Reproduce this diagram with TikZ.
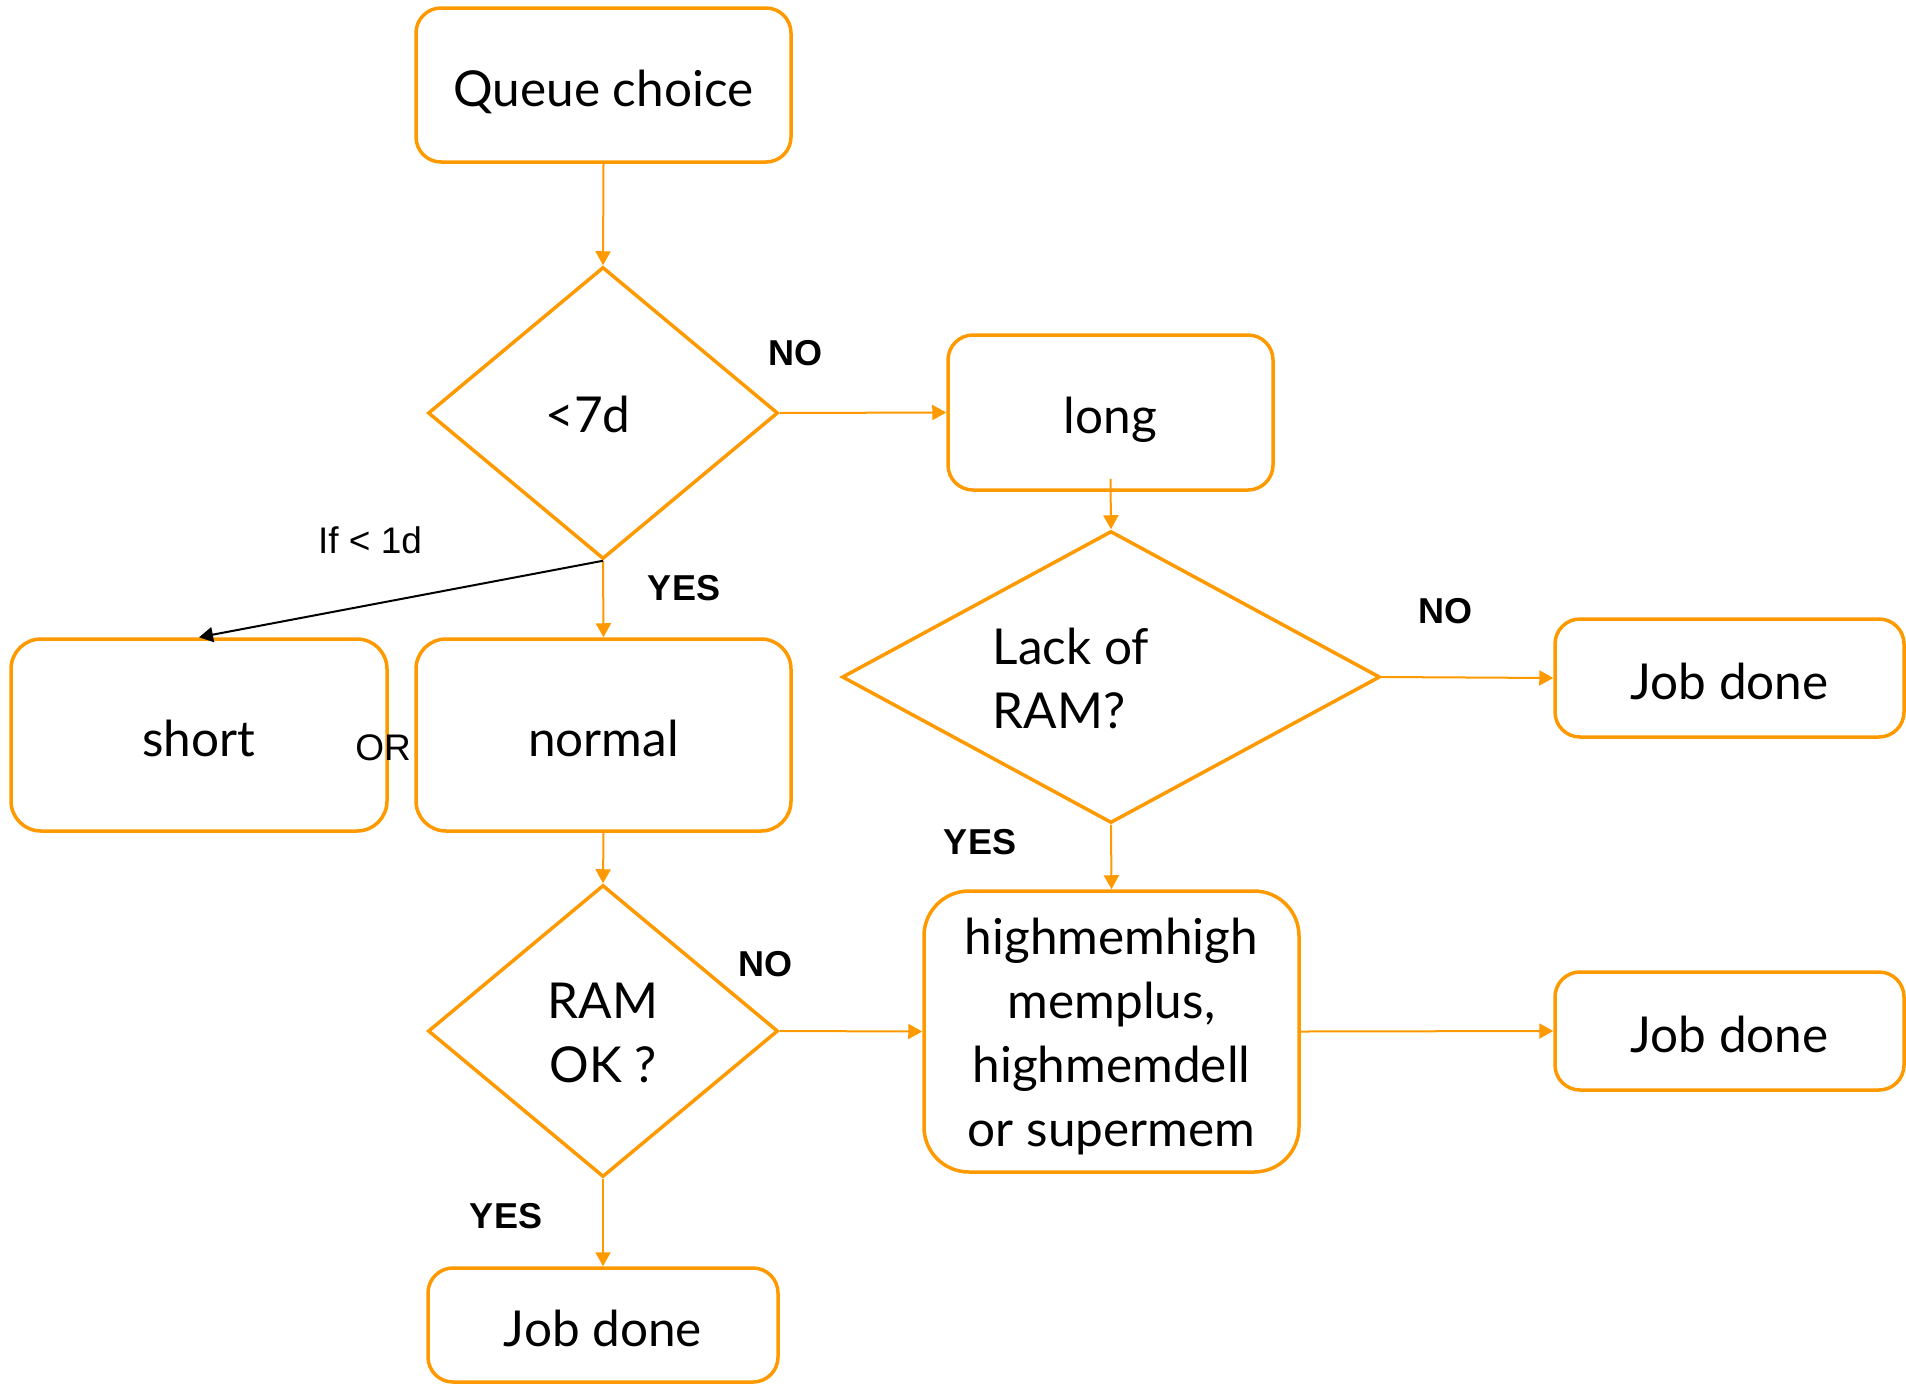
\documentclass[tikz,border=0pt]{standalone}
\usepackage{fontspec}
\setmainfont{Lato}
\newfontfamily\labelfont{Liberation Sans}
\usetikzlibrary{arrows.meta,shapes.geometric}
\definecolor{flow}{RGB}{255,153,0}

\tikzset{
  stepbox/.style={draw=flow, line width=3.5pt, rounded corners=#1, inner sep=0pt,
    font=\fontsize{49.5}{64}\selectfont, text height=46pt, text depth=4pt},
  stepbox/.default=25pt,
  decision/.style={draw=flow, line width=3.5pt, shape=diamond, inner sep=0pt},
  dtext/.style={font=\fontsize{49.5}{64}\selectfont, inner sep=0pt},
  link/.style={draw=flow, line width=2pt, -{Triangle[length=14pt,width=15pt]}},
  answer/.style={font=\labelfont\bfseries\fontsize{36}{40}\selectfont, inner sep=0pt},
  note/.style={font=\labelfont\fontsize{37}{40}\selectfont, inner sep=0pt}
}

\begin{document}
\begin{tikzpicture}[x=1pt,y=-1pt]
  \useasboundingbox (0,0) rectangle (1906,1385);

  % process boxes
  \node[stepbox, minimum width=375pt, minimum height=154pt] (qc) at (603.5,85) {Queue choice};
  \node[stepbox, minimum width=325pt, minimum height=155pt] (long) at (1110.5,412.5) {long};
  \node[stepbox, minimum width=349pt, minimum height=118pt] (jd1) at (1729.5,678) {Job done};
  \node[stepbox=30pt, minimum width=376pt, minimum height=192pt] (short) at (199,735) {short};
  \node[stepbox=30pt, minimum width=375pt, minimum height=192pt] (normal) at (603.5,735) {normal};
  \node[stepbox=45pt, minimum width=375pt, minimum height=281pt] (hm) at (1111.5,1031.5) {};
  \node[dtext, align=center] (hmtext) at (1111.5,1036.5)
    {highmemhigh\\memplus,\\highmemdell\\or supermem};
  \node[stepbox, minimum width=349pt, minimum height=118pt] (jd2) at (1729.5,1031) {Job done};
  \node[stepbox, minimum width=350pt, minimum height=114pt] (jd3) at (603,1325) {Job done};

  % decisions
  \node[decision, minimum width=350pt, minimum height=292pt] (d1) at (603,413) {};
  \node[decision, minimum width=538pt, minimum height=292pt] (d2) at (1111,677) {};
  \node[decision, minimum width=350pt, minimum height=292pt] (d3) at (603,1031) {};
  \node[dtext] (t1) at (588,414) {<7d};
  \node[dtext, align=left] (t2) at (1071,678) {Lack of\\RAM?};
  \node[dtext, align=center] (t3) at (603,1033) {RAM\\OK ?};

  % connectors
  \draw[link] (qc.south) -- (d1.north);
  \draw[link] (d1.east) -- (long.west);
  \draw[link] (d1.south) -- (normal.north);
  \draw[line width=2pt, -{Triangle[length=14pt,width=15pt]}] (d1.south) -- (short.north);
  \draw[link] ([yshift=13pt]long.south) -- (d2.north);
  \draw[link] (d2.east) -- (jd1.west);
  \draw[link] (d2.south) -- (hm.north);
  \draw[link] (normal.south) -- (d3.north);
  \draw[link] (d3.east) -- (hm.west);
  \draw[link] (hm.east) -- (jd2.west);
  \draw[link] (d3.south) -- (jd3.north);

  % branch labels
  \node[answer] (no1) at (795,353) {NO};
  \node[answer] (yes1) at (684,588) {YES};
  \node[answer] (no2) at (1445,611) {NO};
  \node[answer] (yes2) at (980,842) {YES};
  \node[answer] (no3) at (765,964) {NO};
  \node[answer] (yes3) at (506,1216) {YES};
  \node[note] (lt1d) at (370,540) {If < 1d};
  \node[note] (orl) at (383,748) {OR};
\end{tikzpicture}
\end{document}
